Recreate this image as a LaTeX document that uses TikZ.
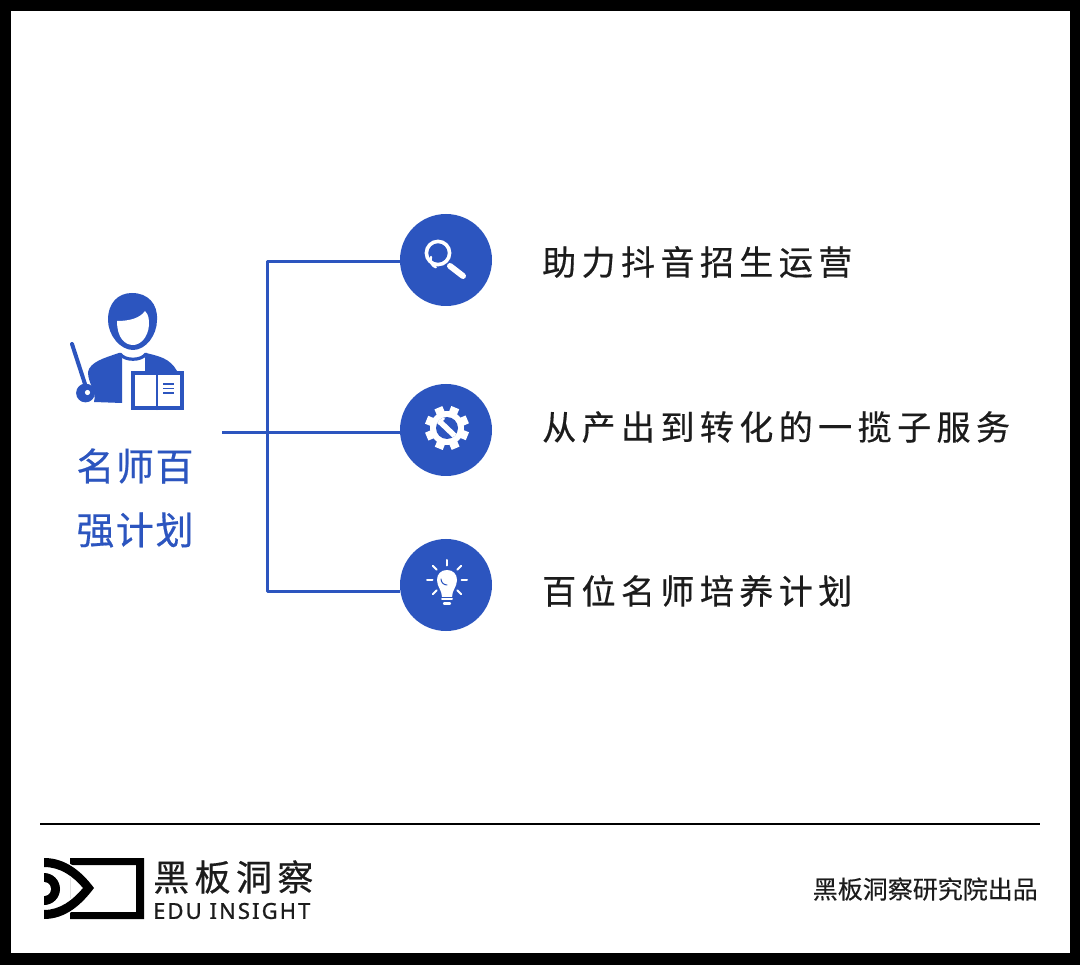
\documentclass[tikz,border=0pt]{standalone}
\usepackage{fontspec}
\setmainfont{Noto Sans}
\newfontfamily\cjk[FakeBold=0.25]{Noto Sans CJK SC}
\newfontfamily\cjkwide[LetterSpace=16,FakeBold=0.5]{Noto Sans CJK SC}
\newfontfamily\cjklogo[LetterSpace=15,FakeBold=0.5]{Noto Sans CJK SC}
\newfontfamily\cjklabel[LetterSpace=4,FakeBold=0.5]{Noto Sans CJK SC}
\newfontfamily\edufont[LetterSpace=9.5,FakeBold=1]{Noto Sans}
\definecolor{edublue}{HTML}{2C55BF}
\definecolor{eduink}{HTML}{1C1C1C}
\tikzset{
  branch/.style={draw=edublue,line width=3pt},
  badge/.style={circle,fill=edublue,minimum size=92pt,inner sep=0pt},
  itemtext/.style={anchor=west,inner sep=0pt,text=eduink,font=\cjkwide\fontsize{34}{40}\selectfont},
  grouptext/.style={inner sep=0pt,text=edublue,font=\cjklabel\fontsize{38}{44}\selectfont},
}
\begin{document}
\begin{tikzpicture}[x=1pt,y=-1pt,line join=round,line cap=round]
\useasboundingbox (0,0) rectangle (1080,965);
\fill[black] (0,0) rectangle (1080,965);
\fill[white] (11,11) rectangle (1070,953);
% teacher
\fill[edublue] (108,320) .. controls (108,303) and (118,293) .. (132,293) .. controls (148,293) and (158,304) .. (157,320) .. controls (157,335) and (146,350) .. (133,350) .. controls (120,350) and (108,335) .. (108,320) -- cycle;
\fill[white] (117,321) .. controls (130,321) and (140,318) .. (145,311) .. controls (149,315) and (149,320) .. (149,325) .. controls (148,338) and (140,345) .. (133,345) .. controls (125,345) and (117,338) .. (117,321) -- cycle;
\fill[edublue] (88,372) .. controls (90,362) and (104,358) .. (119,353) .. controls (120,354) and (121,356) .. (122,358) -- (122,403) -- (94,402) .. controls (97,392) and (88,384) .. (88,372) -- cycle;
\fill[edublue] (146,353) .. controls (158,356) and (170,358) .. (177,371) -- (145,371) -- (145,358) -- cycle;
\draw[edublue,line width=3.2pt] (120,354) .. controls (125,361) and (141,361) .. (146,354);
\draw[edublue,line width=4pt] (72,344) -- (85,384);
\fill[edublue] (85.5,393) circle (9.4);
\fill[white] (87.5,392.5) circle (2.6);
\draw[edublue,line width=3.4pt,fill=white,line join=miter] (133,373) rectangle (182,408);
\draw[edublue,line width=2.4pt] (157,373) -- (157,409);
\foreach \y in {384,388.5,393}
  \draw[edublue,line width=1.8pt,line cap=butt] (163,\y) -- (174,\y);
\node[grouptext] (grouptop) at (135,466) {名师百};
\node[grouptext] (groupbot) at (135,530) {强计划};
% branches
\node[badge] (search) at (446,260) {};
\node[badge] (gear) at (446,430) {};
\node[badge] (bulb) at (446,585) {};
\coordinate (stem) at (222,432.5);
\coordinate (trunktop) at (267,261.5);
\coordinate (trunkbot) at (267,591.5);
\draw[branch,line cap=butt] (stem) -- (gear.west |- stem);
\draw[branch,line cap=butt] (search.west |- trunktop) -- (trunktop) -- (trunkbot) -- (bulb.west |- trunkbot);
% magnifier
\draw[white,line width=3.6pt] (438,253) circle (11.6);
\draw[white,line width=6pt] (450,266) -- (463,276);
\draw[white,line width=2.4pt] (431,257) arc (200:110:8);
% gear
\foreach \a in {0,45,...,315}
  \draw[white,line width=8.5pt,line cap=butt] (447,428) ++(\a+22:13) -- ++(\a+22:9);
\fill[white] (447,428) circle (17);
\fill[edublue] (447,428) circle (11);
\begin{scope}
\clip (447,428) circle (11);
\draw[white,line width=5.5pt,line cap=butt] (436,418) -- (458,439);
\draw[white,line width=2.5pt,line cap=butt] (438,424) -- (444,418);
\end{scope}
% lamp
\fill[white] (442,597) .. controls (442,590) and (437,587) .. (437,580) .. controls (437,574) and (441,570) .. (447,570) .. controls (453,570) and (457,574) .. (457,580) .. controls (457,587) and (452,590) .. (452,597) -- cycle;
\draw[edublue,line width=1pt] (441,579) arc (180:90:6);
\draw[white,line width=2pt] (442,599.5) -- (452,599.5);
\draw[white,line width=2.4pt] (444,603.5) -- (450,603.5);
\foreach \a in {-90,-45,0,180,225,45,135}
  \draw[white,line width=2pt] (447,580) ++(\a:14.5) -- ++(\a:5.5);
% texts
\node[itemtext] (searchtext) at (542,262) {助力抖音招生运营};
\node[itemtext] (geartext) at (542,427) {从产出到转化的一揽子服务};
\node[itemtext] (bulbtext) at (542,591) {百位名师培养计划};
% footer
\coordinate (ruleleft) at (40,824);
\coordinate (ruleright) at (1040,824);
\draw[black,line width=1.4pt,line cap=butt] (ruleleft) -- (ruleright);
\fill[black,even odd rule] (70,858) -- (144,858) -- (144,919) -- (70,919) -- cycle (70,865) -- (136,865) -- (136,912) -- (70,912) -- cycle;
\fill[black,draw=white,line width=2.5pt] (44,858) .. controls (66,858) and (82,872) .. (94,888) .. controls (82,904) and (66,919) .. (44,919) -- (44,910) .. controls (60,910) and (73,900) .. (83,888) .. controls (73,876) and (60,867) .. (44,867) -- cycle;
\fill[black] (44,858) .. controls (66,858) and (82,872) .. (94,888) .. controls (82,904) and (66,919) .. (44,919) -- (44,910) .. controls (60,910) and (73,900) .. (83,888) .. controls (73,876) and (60,867) .. (44,867) -- cycle;
\fill[black] (44,873) arc (-90:90:16) -- cycle;
\fill[white] (44,882) arc (-90:90:7) -- cycle;
\node[anchor=west,inner sep=0pt,text=eduink,font=\cjklogo\fontsize{36}{40}\selectfont] (logotext) at (153,877) {黑板洞察};
\node[anchor=west,inner sep=0pt,text=eduink,font=\edufont\fontsize{22}{24}\selectfont] (logosub) at (153,911) {EDU INSIGHT};
\node[anchor=east,inner sep=0pt,text=eduink,font=\cjk\fontsize{25}{30}\selectfont] (credit) at (1038,889) {黑板洞察研究院出品};
\end{tikzpicture}
\end{document}
